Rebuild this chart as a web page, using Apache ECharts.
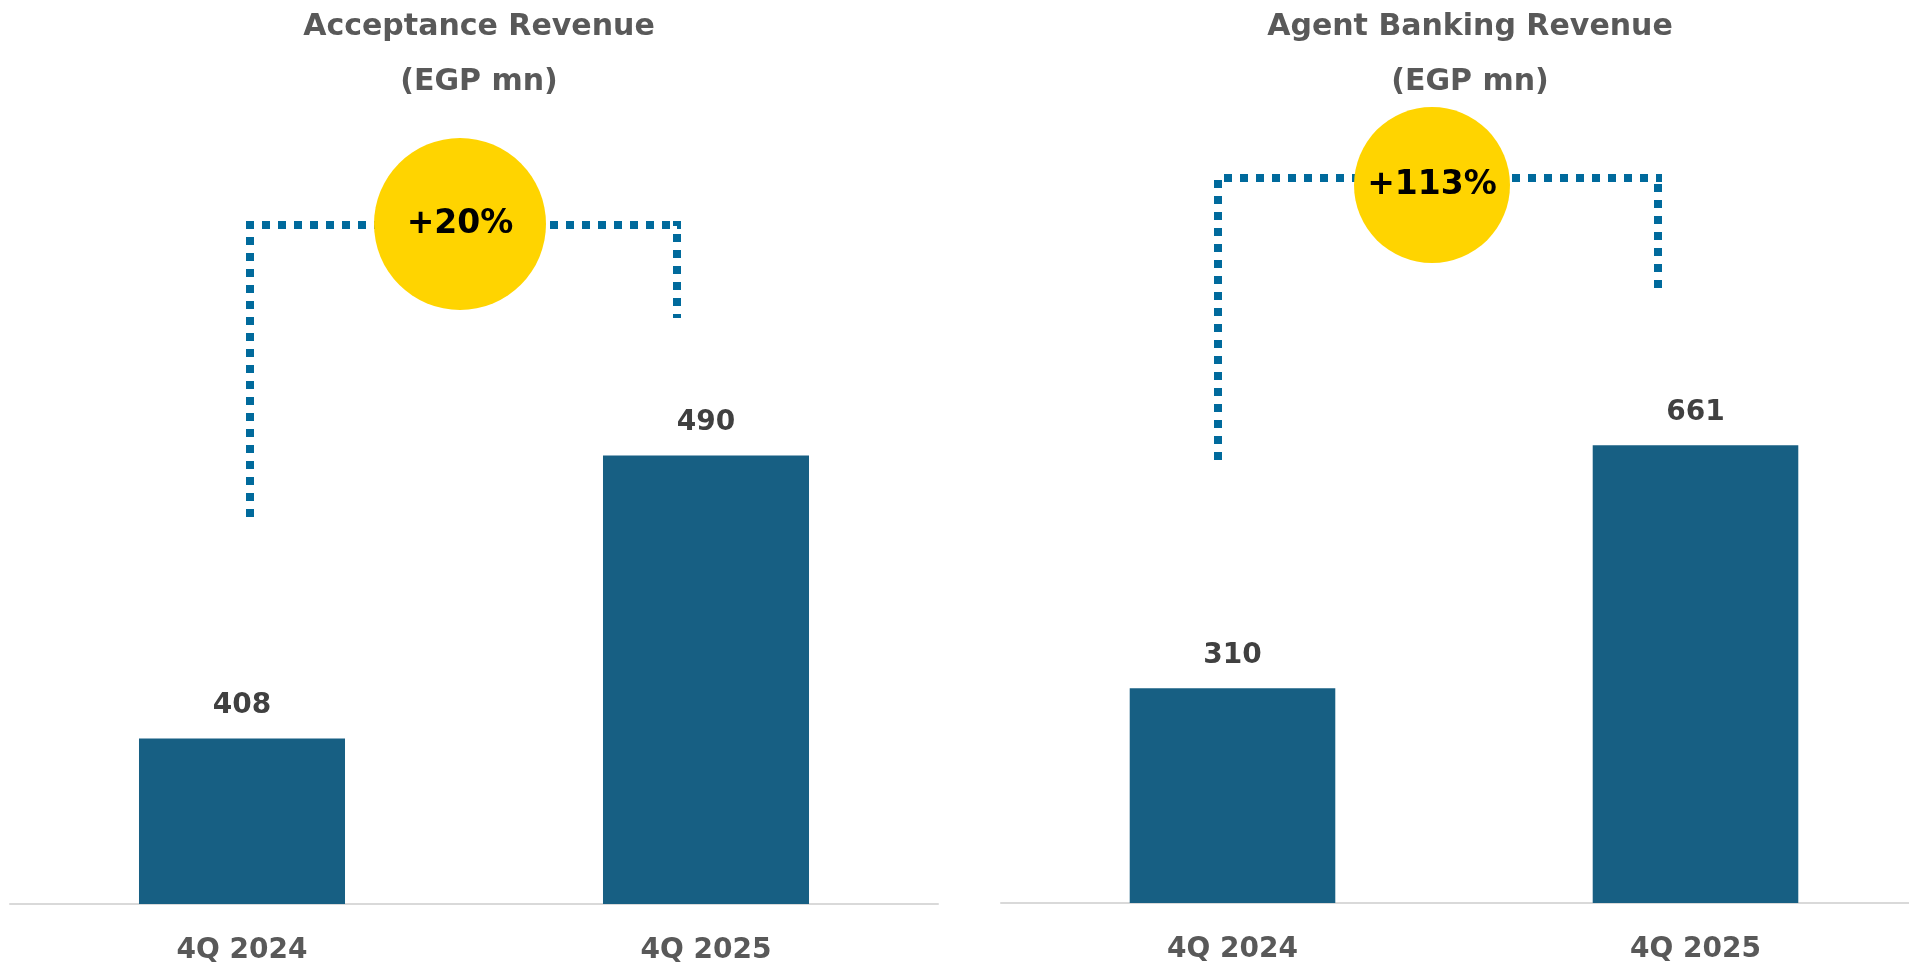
<!DOCTYPE html>
<html>
<head>
<meta charset="utf-8">
<title>Acceptance & Agent Banking Revenue</title>
<script src="https://cdn.jsdelivr.net/npm/echarts@6/dist/echarts.min.js"></script>
<style>
    html, body { margin: 0; padding: 0; background: #fff; }
    #main { width: 1909px; height: 966px; }
</style>
</head>
<body>
<div id="main"></div>
<script>
// 数据
const quarters = ['4Q 2024', '4Q 2025']
const acceptanceRevenue = [408, 490]
const agentBankingRevenue = [310, 661]
const chartTitles = ['Acceptance Revenue\n(EGP mn)', 'Agent Banking Revenue\n(EGP mn)']

const FONT = '"DejaVu Sans", sans-serif'
const BAR_COLOR = '#175f83'
const DOT_COLOR = '#006a9c'
const BADGE_COLOR = '#ffd400'

const growthText = (arr) => '+' + Math.round((arr[1] / arr[0] - 1) * 100) + '%'

const chart = echarts.init(document.getElementById('main'))

const xAxisCommon = {
    type: 'category',
    data: quarters,
    axisTick: { show: false },
    axisLine: { lineStyle: { color: '#d9d9d9', width: 2 } },
    axisLabel: {
        color: '#595959',
        fontFamily: FONT,
        fontWeight: 'bold',
        fontSize: 28,
        margin: 47,
        verticalAlign: 'middle'
    }
}

const barCommon = {
    type: 'bar',
    barWidth: '44.4%',
    itemStyle: { color: BAR_COLOR },
    label: {
        show: true,
        position: 'top',
        distance: 19,
        color: '#404040',
        fontFamily: FONT,
        fontWeight: 'bold',
        fontSize: 28
    }
}

const titleCommon = {
    textAlign: 'center',
    top: -5,
    textStyle: {
        color: '#595959',
        fontFamily: FONT,
        fontWeight: 'bold',
        fontSize: 30,
        lineHeight: 55
    }
}

// 虚线连接 + 黄色圆形增长标记
const badge = (pts, cx, cy, r, text) => [
    {
        type: 'polyline',
        shape: { points: pts },
        style: { stroke: DOT_COLOR, lineWidth: 8, lineDash: [8, 8], fill: null },
        z: 10
    },
    {
        type: 'circle',
        shape: { cx: cx, cy: cy, r: r },
        style: { fill: BADGE_COLOR },
        z: 11
    },
    {
        type: 'text',
        x: cx,
        y: cy,
        style: {
            text: text,
            fill: '#000',
            font: 'bold 33px ' + FONT,
            align: 'center',
            verticalAlign: 'middle'
        },
        z: 12
    }
]

const option = {
    backgroundColor: '#fff',
    animation: false,
    title: [
        Object.assign({ text: chartTitles[0], left: 474 }, titleCommon),
        Object.assign({ text: chartTitles[1], left: 1465 }, titleCommon)
    ],
    grid: [
        { left: 10, width: 928, top: 352, height: 552, outerBoundsMode: 'none' },
        { left: 1001, width: 926, top: 349, height: 554, outerBoundsMode: 'none' }
    ],
    xAxis: [
        Object.assign({ gridIndex: 0 }, xAxisCommon),
        Object.assign({ gridIndex: 1 }, xAxisCommon)
    ],
    yAxis: [
        { gridIndex: 0, type: 'value', min: 360, max: 520, show: false },
        { gridIndex: 1, type: 'value', min: 0, max: 800, show: false }
    ],
    series: [
        Object.assign({ name: 'Acceptance', xAxisIndex: 0, yAxisIndex: 0, data: acceptanceRevenue }, barCommon),
        Object.assign({ name: 'Agent Banking', xAxisIndex: 1, yAxisIndex: 1, data: agentBankingRevenue }, barCommon)
    ],
    graphic: [].concat(
        badge([[250, 517], [250, 225], [681, 225], [677, 225], [677, 318]], 460, 224, 86, growthText(acceptanceRevenue)),
        badge([[1218, 460], [1218, 178], [1662, 178], [1658, 178], [1658, 288]], 1432, 185, 78, growthText(agentBankingRevenue))
    )
}

chart.setOption(option)

window.addEventListener('resize', () => chart.resize())
</script>
</body>
</html>
